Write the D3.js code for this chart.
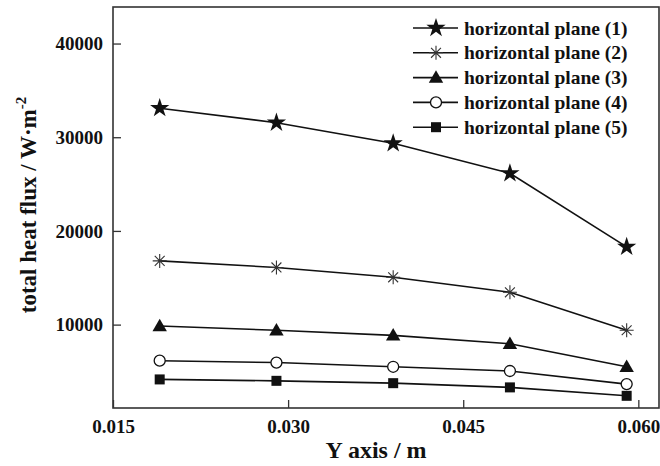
<!DOCTYPE html>
<html>
<head>
<meta charset="utf-8">
<script src="https://cdn.jsdelivr.net/npm/d3@7"></script>
<style>
  body { margin: 0; background: #fff; }
  text { font-family: "Liberation Serif", "Times New Roman", serif; font-weight: bold; fill: #111; }
</style>
</head>
<body>
<svg id="chart" width="660" height="466"></svg>
<script>
// data
const yPos = [0.019, 0.029, 0.039, 0.049, 0.059]
const plane1 = [33100, 31550, 29350, 26150, 18300]
const plane2 = [16800, 16100, 15050, 13450, 9400]
const plane3 = [9850, 9400, 8850, 7950, 5500]
const plane4 = [6150, 5950, 5500, 5050, 3650]
const plane5 = [4150, 4000, 3750, 3300, 2400]
const seriesNames = ["horizontal plane (1)", "horizontal plane (2)", "horizontal plane (3)",
  "horizontal plane (4)", "horizontal plane (5)"]
const markerKinds = ["star", "asterisk", "triangle", "circle", "square"]
const xTicks = [0.015, 0.030, 0.045, 0.060]
const yTicks = [10000, 20000, 30000, 40000]

const series = [plane1, plane2, plane3, plane4, plane5].map((vals, i) => ({
  name: seriesNames[i], kind: markerKinds[i],
  points: vals.map((v, j) => [yPos[j], v])
}))

const svg = d3.select("#chart")
const m = {left: 113, right: 659, top: 7, bottom: 408}

let x = d3.scaleLinear().domain([0.015, 0.06177]).range([m.left, m.right])
let y = d3.scaleLinear().domain([1100, 43900]).range([m.bottom, m.top])

// frame
svg.append("rect")
  .attr("x", m.left).attr("y", m.top)
  .attr("width", m.right - m.left).attr("height", m.bottom - m.top)
  .attr("fill", "none").attr("stroke", "#333").attr("stroke-width", 1.6)

// ticks, inward
svg.append("g")
  .attr("transform", `translate(0,${m.bottom})`)
  .call(d3.axisBottom(x).tickValues(xTicks).tickFormat(d3.format(".3f")).tickSizeInner(-8).tickSizeOuter(0).tickPadding(12))
  .call(g => g.select(".domain").remove())
  .call(g => g.selectAll("line").attr("stroke", "#333").attr("stroke-width", 1.3))
  .call(g => g.selectAll("text").attr("font-size", 19).attr("font-family", null).attr("fill", null))

svg.append("g")
  .attr("transform", `translate(${m.left},0)`)
  .call(d3.axisLeft(y).tickValues(yTicks).tickFormat(d3.format("d")).tickSizeInner(-8).tickSizeOuter(0).tickPadding(10))
  .call(g => g.select(".domain").remove())
  .call(g => g.selectAll("line").attr("stroke", "#333").attr("stroke-width", 1.3))
  .call(g => g.selectAll("text").attr("font-size", 19).attr("font-family", null).attr("fill", null))

// axis titles
svg.append("text")
  .attr("x", 376).attr("y", 458)
  .attr("text-anchor", "middle").attr("font-size", 24)
  .text("Y axis / m")

const yt = svg.append("text")
  .attr("transform", "translate(36,205) rotate(-90)")
  .attr("text-anchor", "middle").attr("font-size", 23)
yt.append("tspan").text("total heat flux / W·m")
yt.append("tspan").attr("dy", -10).attr("font-size", 15).text("-2")

// markers
function drawMarker(g, kind) {
  if (kind === "star") {
    g.append("path").attr("d", d3.symbol(d3.symbolStar, 115)()).attr("fill", "#111")
  } else if (kind === "triangle") {
    g.append("path").attr("d", d3.symbol(d3.symbolTriangle, 90)()).attr("fill", "#111")
      .attr("transform", "translate(0,1)")
  } else if (kind === "square") {
    g.append("rect").attr("x", -5).attr("y", -5).attr("width", 10).attr("height", 10).attr("fill", "#111")
  } else if (kind === "circle") {
    g.append("circle").attr("r", 5.5).attr("fill", "#fff").attr("stroke", "#111").attr("stroke-width", 1.3)
  } else {
    const r = 7, s = r * Math.SQRT1_2
    g.append("path")
      .attr("d", `M0,${-r}L0,${r}M${-r},0L${r},0M${-s},${-s}L${s},${s}M${-s},${s}L${s},${-s}`)
      .attr("stroke", "#333").attr("stroke-width", 1.1).attr("fill", "none")
  }
}

const line = d3.line().x(d => x(d[0])).y(d => y(d[1]))

series.forEach(s => {
  svg.append("path").datum(s.points)
    .attr("d", line).attr("fill", "none").attr("stroke", "#111").attr("stroke-width", 1.6)
  s.points.forEach(p => {
    const g = svg.append("g").attr("transform", `translate(${x(p[0])},${y(p[1])})`)
    drawMarker(g, s.kind)
  })
})

// legend
const legend = svg.append("g").attr("transform", "translate(413,28)")
series.forEach((s, i) => {
  const row = legend.append("g").attr("transform", `translate(0,${i * 24.8})`)
  row.append("line").attr("x1", 0).attr("x2", 45).attr("stroke", "#111").attr("stroke-width", 1.6)
  drawMarker(row.append("g").attr("transform", "translate(23,0)"), s.kind)
  row.append("text").attr("x", 51).attr("y", 6.5).attr("font-size", 19.5).text(s.name)
})
</script>
</body>
</html>
